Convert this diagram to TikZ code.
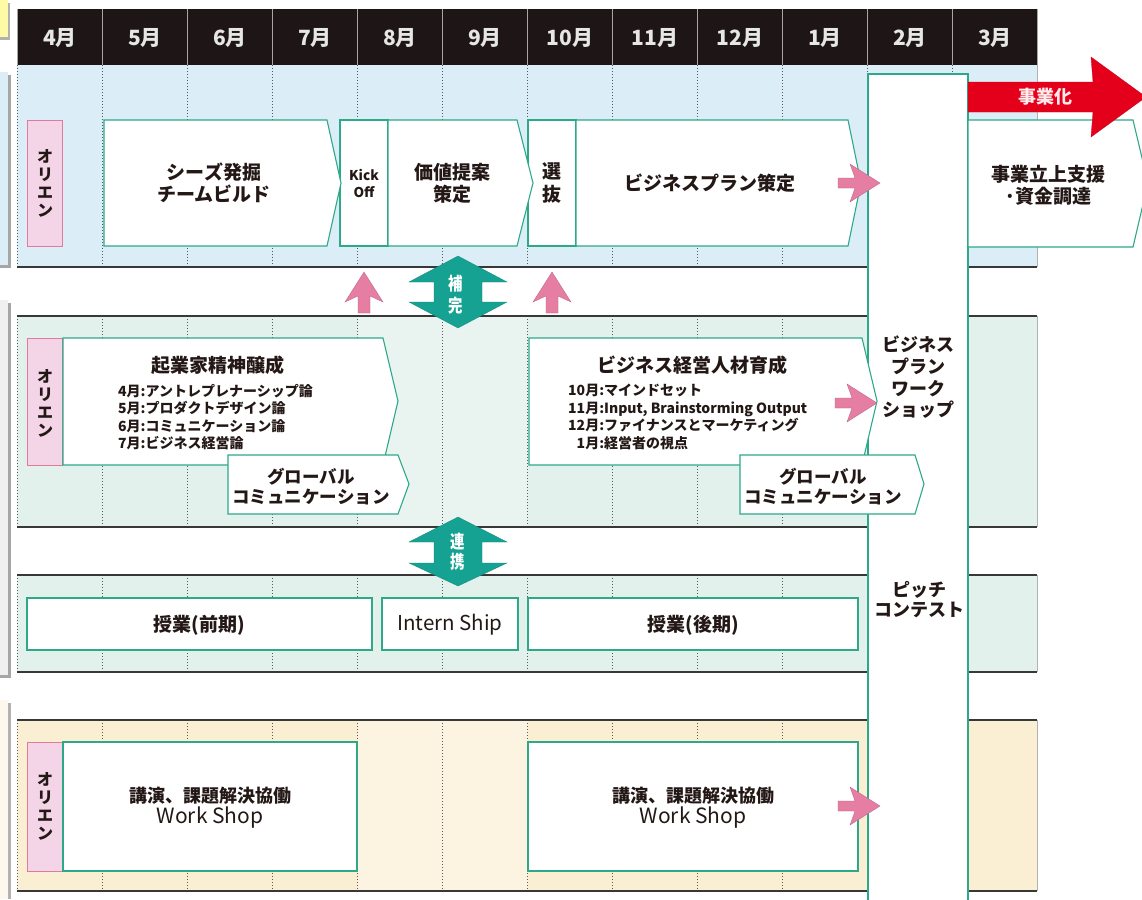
\documentclass[tikz,border=0pt]{standalone}
\usepackage{fontspec}
\usepackage{graphicx}
\setmainfont{Noto Sans CJK JP}
\definecolor{hdrbg}{HTML}{1E1616}
\definecolor{hdrtxt}{HTML}{E6E6E6}
\definecolor{rowblue}{HTML}{DBEDF7}
\definecolor{rowgreen}{HTML}{E2F1EB}
\definecolor{rowpeach}{HTML}{FBEFD3}
\definecolor{bgreen}{HTML}{2DA98A}
\definecolor{orifill}{HTML}{F3D5E7}
\definecolor{oriline}{HTML}{E27A9C}
\definecolor{parrow}{HTML}{E57EA2}
\definecolor{tarrow}{HTML}{16A292}
\definecolor{rarrow}{HTML}{E4001A}
\definecolor{ink}{HTML}{231815}
\tikzset{
  gbox/.style={draw=bgreen, line width=1.1pt, fill=white, line join=miter},
  oribox/.style={draw=oriline, line width=0.8pt, fill=orifill},
  rowln/.style={draw=black!78, line width=1.4pt},
  edgeln/.style={draw=black!30, line width=0.6pt},
  dotln/.style={draw=black!65, line width=0.8pt, dash pattern=on 1pt off 2pt},
  btxt/.style={font=\bfseries\fontsize{19}{22}\selectfont, align=center, text=ink, inner sep=0pt},
  gtxt/.style={font=\bfseries\fontsize{17.5}{20}\selectfont, align=center, text=ink, inner sep=0pt},
  ltxt/.style={font=\bfseries\fontsize{14}{17.5}\selectfont, text=ink, inner sep=0pt, anchor=west},
  oritxt/.style={font=\bfseries\fontsize{16}{18}\selectfont, align=center, text=ink, inner sep=0pt},
  monthlbl/.style={font=\bfseries\fontsize{21}{22}\selectfont, text=hdrtxt, inner sep=0pt},
  wtxt/.style={font=\bfseries\fontsize{18}{21}\selectfont, align=center, text=white, inner sep=0pt},
  pinkarr/.style={fill=parrow, draw=parrow!80!black, line width=0.3pt},
  tealarr/.style={fill=tarrow, draw=tarrow!85!black, line width=0.3pt},
}
\newcommand\PArrowR[2]{% tip x, tip y
  \path[pinkarr] (#1,#2) -- ({#1-30},{#2-19}) -- ({#1-25},{#2-5}) -- ({#1-42},{#2-5}) -- ({#1-42},{#2+5}) -- ({#1-25},{#2+5}) -- ({#1-30},{#2+19}) -- cycle;}
\newcommand\PArrowU[1]{% center x
  \path[pinkarr] (#1,272) -- ({#1+19},302) -- ({#1+6},296) -- ({#1+6},313) -- ({#1-6},313) -- ({#1-6},296) -- ({#1-19},302) -- cycle;}
\newcommand\TDouble[5]{% cx, top, hb1, hb2, bot
  \path[tealarr] (#1,#2) -- ({#1+49},#3) -- ({#1+24},#3) -- ({#1+24},#4) -- ({#1+49},#4) -- (#1,#5) -- ({#1-49},#4) -- ({#1-24},#4) -- ({#1-24},#3) -- ({#1-49},#3) -- cycle;}
\begin{document}
\begin{tikzpicture}[x=1pt,y=-1pt]
\useasboundingbox (0,0) rectangle (1142,899);
\clip (0,0) rectangle (1142,899);
\fill[white] (0,0) rectangle (1142,899);

% left edge panels (cut off)
\fill[black!30] (0,3) rectangle (10,40);
\fill[yellow!35] (-2,0) rectangle (8,37);
\fill[black!35] (0,75) rectangle (11,268);
\fill[rowblue] (-2,72) rectangle (8,265);
\fill[black!35] (0,303) rectangle (11,678);
\fill[black!6] (-2,300) rectangle (8,675);
\fill[black!30] (0,703) rectangle (11,899);
\fill[rowpeach!80!orange!20] (-2,700) rectangle (8,899);

% header
\fill[hdrbg] (17,9) rectangle (1037,65);
\foreach \k in {0,...,12} \draw[black!35, line width=0.8pt] ({17.5+85*\k},9) -- ({17.5+85*\k},65);
\foreach \m [count=\i] in {4,5,6,7,8,9,10,11,12,1,2,3}
  \node[monthlbl] (m\i) at ({17.5+85*(\i-0.5)},38) {\m 月};

% row backgrounds
\fill[rowblue] (17,65) rectangle (1037,267);
\fill[rowgreen] (17,316) rectangle (1037,527);
\fill[rowgreen] (17,575) rectangle (1037,672);
\fill[rowpeach] (17,720) rectangle (1037,891);
\fill[white,opacity=0.25] (357.5,316) rectangle (527.5,527);
\fill[white,opacity=0.3] (357.5,720) rectangle (527.5,891);

% dotted column lines
\foreach \k in {0,...,11} {
  \draw[dotln] ({17.5+85*\k},65) -- ({17.5+85*\k},267);
  \draw[dotln] ({17.5+85*\k},316) -- ({17.5+85*\k},527);
  \draw[dotln] ({17.5+85*\k},575) -- ({17.5+85*\k},672);
  \draw[dotln] ({17.5+85*\k},720) -- ({17.5+85*\k},891);
}
% row lines
\draw[rowln] (17,267) -- (1037,267);
\draw[rowln] (17,316) -- (1037,316);
\draw[rowln] (17,527) -- (1037,527);
\draw[rowln] (17,575) -- (1037,575);
\draw[rowln] (17,672) -- (1037,672);
\draw[rowln] (17,720) -- (1037,720);
\draw[rowln] (17,891) -- (1037,891);
\draw[edgeln] (1037,65) -- (1037,267);
\draw[edgeln] (1037,316) -- (1037,527);
\draw[edgeln] (1037,575) -- (1037,672);
\draw[edgeln] (1037,720) -- (1037,891);

% tall column
\draw[gbox] (868,74) rectangle (968,910);
\node[btxt, font=\bfseries\fontsize{18}{21.7}\selectfont] (bpws) at (918,377.5) {ビジネス\\プラン\\ワーク\\ショップ};
\node[btxt, font=\bfseries\fontsize{18}{20}\selectfont] (pitch) at (919,600) {ピッチ\\コンテスト};

% ---- row 1
\draw[oribox] (27,120) rectangle (62,246);
\node[oritxt] (o1) at (45,183) {オ\\リ\\エ\\ン};
\draw[gbox] (340,120) rectangle (388,246);
\draw[gbox] (104,120) -- (327,120) -- (341,183) -- (327,246) -- (104,246) -- cycle;
\node[btxt] (seeds) at (214,183) {シーズ発掘\\チームビルド};
\node[btxt, font=\bfseries\fontsize{13.5}{17}\selectfont] (kick) at (364,183) {Kick\\Off};
\draw[gbox] (528,120) rectangle (576,246);
\draw[gbox] (388,120) -- (517,120) -- (533,183) -- (517,246) -- (388,246) -- cycle;
\node[btxt] (value) at (452,183) {価値提案\\策定};
\node[btxt, font=\bfseries\fontsize{19}{23}\selectfont] (select) at (552,183) {選\\抜};
\draw[gbox] (576,120) -- (848,120) -- (861,183) -- (848,246) -- (576,246) -- cycle;
\node[btxt] (plan) at (710,183) {ビジネスプラン策定};
\draw[gbox] (968,120) -- (1133,120) -- (1148,183) -- (1133,247) -- (968,247) -- cycle;
\node[btxt] (launch) at (1048,185.5) {事業立上支援\\·資金調達};
\PArrowR{880}{183}

% red arrow
\path[fill=rarrow, draw=rarrow!85!black, line width=0.3pt] (968,82) -- (1093,82) -- (1091,57) -- (1146,97) -- (1091,137) -- (1093,112) -- (968,112) -- cycle;
\node[wtxt, text=white!92!red] (jigyo) at (1045,97) {事業化};

% between row 1 and 2
\PArrowU{364}
\PArrowU{552}
\TDouble{458}{256}{282}{302}{328}
\node[wtxt] (hokan) at (456,294.5) {\scalebox{0.8}[1]{補}\\[1pt]\scalebox{0.8}[1]{完}};

% ---- row 2
\draw[oribox] (27,338) rectangle (62,465);
\node[oritxt] (o2) at (45,403) {オ\\リ\\エ\\ン};
\draw[gbox] (63,338) -- (383,338) -- (398,401) -- (383,465) -- (63,465) -- cycle;
\node[btxt] (kigyo) at (218,365) {起業家精神醸成};
\node[ltxt] (list1) at (118,419) {\begin{tabular}{@{}r@{:}l@{}}4月&アントレプレナーシップ論\\5月&プロダクトデザイン論\\6月&コミュニケーション論\\7月&ビジネス経営論\end{tabular}};
\draw[gbox] (228,455) -- (398,455) -- (409,484) -- (398,514) -- (228,514) -- cycle;
\node[gtxt] (glob1) at (311,487) {グローバル\\コミュニケーション};

\draw[gbox] (529,338) -- (862,338) -- (877,401) -- (862,465) -- (529,465) -- cycle;
\node[btxt] (bizhr) at (692,365) {ビジネス経営人材育成};
\node[ltxt] (list2) at (568,418.5) {\begin{tabular}{@{}r@{:}l@{}}10月&マインドセット\\11月&Input, Brainstorming Output\\12月&ファイナンスとマーケティング\\1月&経営者の視点\end{tabular}};
\draw[gbox] (740,455) -- (915,455) -- (924,484) -- (915,514) -- (740,514) -- cycle;
\node[gtxt] (glob2) at (823,487) {グローバル\\コミュニケーション};
\PArrowR{877}{403}

% between row 2 and 3
\TDouble{458}{517}{542}{563}{586}
\node[wtxt] (renkei) at (458,552) {\scalebox{0.8}[1]{連}\\[-1pt]\scalebox{0.8}[1]{携}};

% ---- row 3
\draw[gbox] (27,598) rectangle (372,650);
\node[btxt] (zenki) at (199.5,625) {授業(前期)};
\draw[gbox] (382,598) rectangle (518,650);
\node[btxt, font=\fontsize{20.5}{22}\selectfont] (intern) at (450,625) {Intern Ship};
\draw[gbox] (528,598) rectangle (858,650);
\node[btxt] (koki) at (693,625) {授業(後期)};

% ---- row 4
\draw[oribox] (27,742) rectangle (62,871);
\node[oritxt] (o4) at (45,806) {オ\\リ\\エ\\ン};
\draw[gbox] (63,742) rectangle (357,871);
\node[btxt, font=\bfseries\fontsize{18}{21}\selectfont] (ws1) at (210,807.5) {講演、課題解決協働\\{\mdseries\fontsize{21}{21}\selectfont Work Shop}};
\draw[gbox] (528,742) rectangle (858,871);
\node[btxt, font=\bfseries\fontsize{18}{21}\selectfont] (ws2) at (693,807.5) {講演、課題解決協働\\{\mdseries\fontsize{21}{21}\selectfont Work Shop}};
\PArrowR{880}{806}
\end{tikzpicture}
\end{document}
